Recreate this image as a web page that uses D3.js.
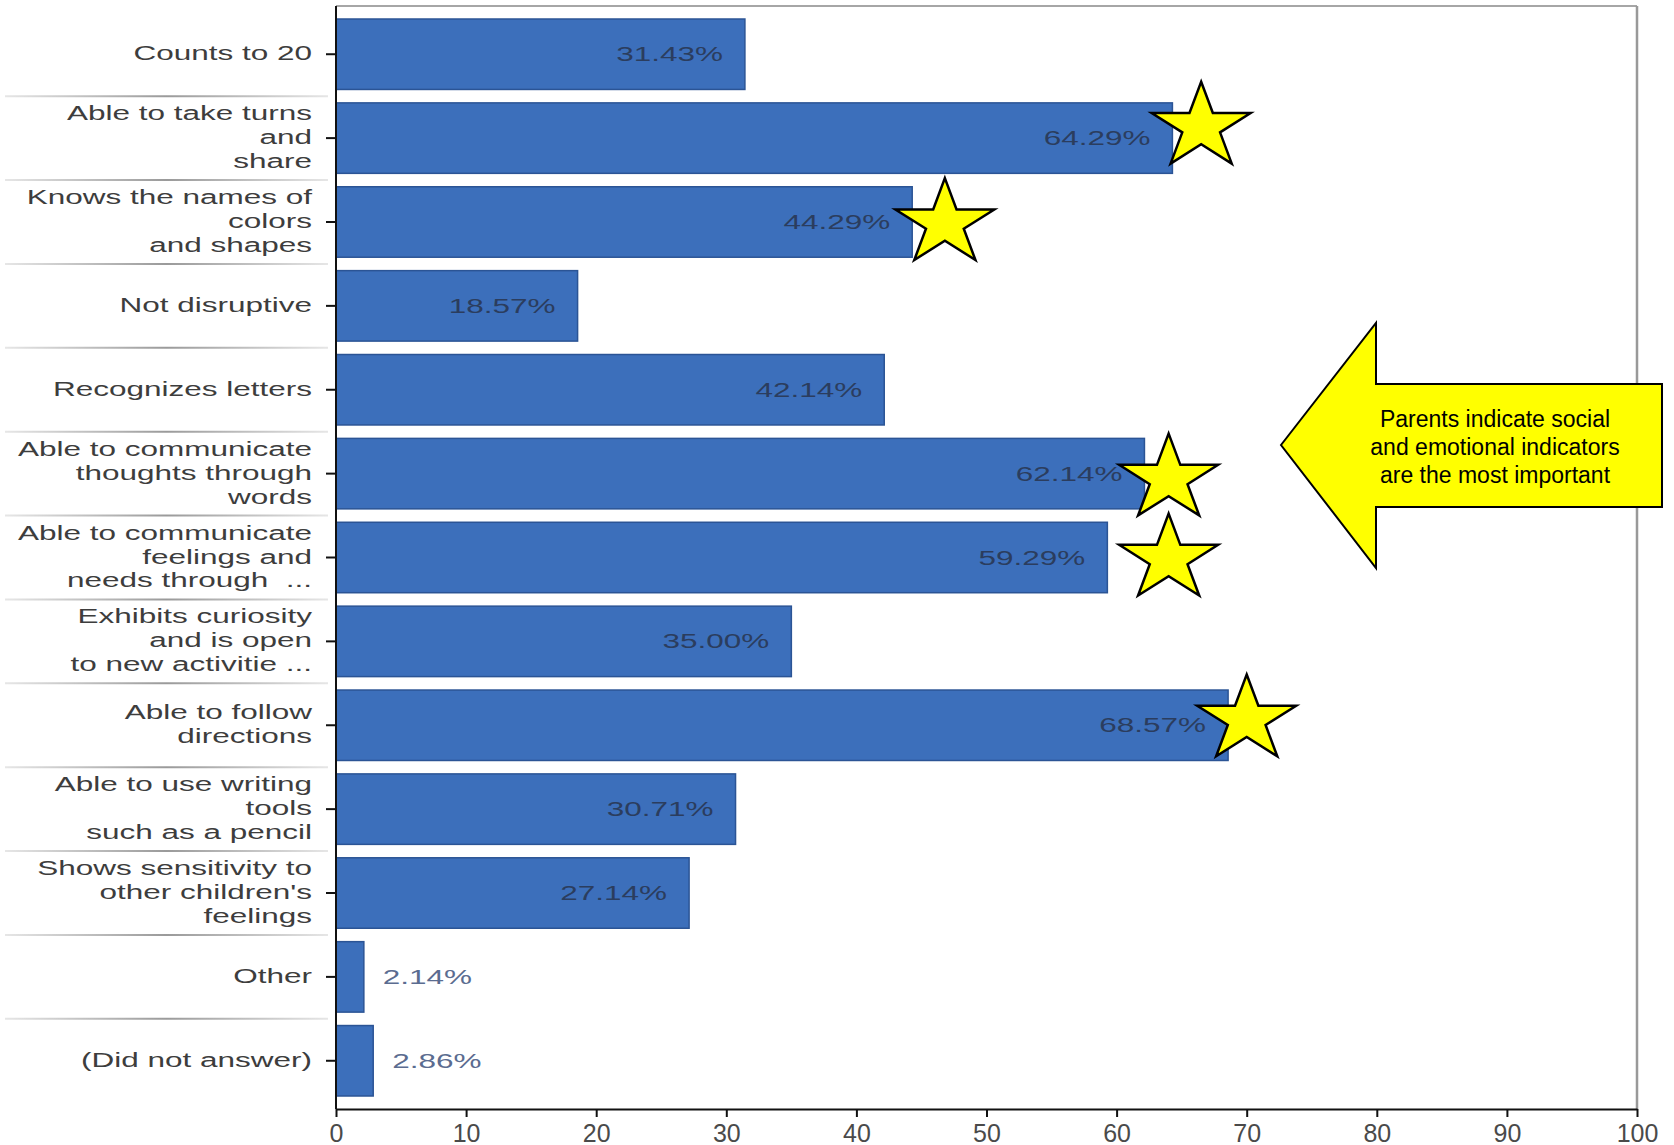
<!DOCTYPE html>
<html><head><meta charset="utf-8">
<script src="https://cdn.jsdelivr.net/npm/d3@7"></script>
<style>body{margin:0;background:#fff}svg{display:block}</style>
</head><body><svg id="c" width="1674" height="1145"></svg>
<script>
const categories = [
  "Counts to 20",
  "Able to take turns\nand\nshare",
  "Knows the names of\ncolors\nand shapes",
  "Not disruptive",
  "Recognizes letters",
  "Able to communicate\nthoughts through\nwords",
  "Able to communicate\nfeelings and\nneeds through  ...",
  "Exhibits curiosity\nand is open\nto new activitie ...",
  "Able to follow\ndirections",
  "Able to use writing\ntools\nsuch as a pencil",
  "Shows sensitivity to\nother children's\nfeelings",
  "Other",
  "(Did not answer)"
];
const values = [31.43, 64.29, 44.29, 18.57, 42.14, 62.14, 59.29, 35.00, 68.57, 30.71, 27.14, 2.14, 2.86];
const valueLabels = ["31.43%", "64.29%", "44.29%", "18.57%", "42.14%", "62.14%", "59.29%", "35.00%", "68.57%", "30.71%", "27.14%", "2.14%", "2.86%"];
const xTicks = [0, 10, 20, 30, 40, 50, 60, 70, 80, 90, 100];
// star annotations: position along category index and along the value axis
const starIndex = [0.868, 2.017, 5.062, 6.016, 7.934];
const starValues = [66.5, 46.8, 64.0, 64.0, 70.0];
const calloutLines = ["Parents indicate social", "and emotional indicators", "are the most important"];

const FONT = "'Liberation Sans', Arial, Helvetica, sans-serif";
const svg = d3.select("#c");
const L = 336, R = 1637, T = 6, B = 1109;

const x = d3.scaleLinear().domain([0, 100]).range([L, R]);
const y = d3.scaleBand().domain(categories).range([T, B]).paddingInner(0.16).paddingOuter(0.155);
const step = y.step(), bw = y.bandwidth();
const yIdx = d3.scaleLinear().domain([0, categories.length - 1])
  .range([y(categories[0]) + bw / 2, y(categories[categories.length - 1]) + bw / 2]);

// gradient for separator lines
const defs = svg.append("defs");
const g = defs.append("linearGradient").attr("id", "sep").attr("gradientUnits", "userSpaceOnUse")
  .attr("x1", 5).attr("x2", 328).attr("y1", 0).attr("y2", 0);
g.append("stop").attr("offset", "0").attr("stop-color", "#e6e6e6");
g.append("stop").attr("offset", "0.5").attr("stop-color", "#9a9a9a");
g.append("stop").attr("offset", "1").attr("stop-color", "#e6e6e6");

// separators between category labels
svg.append("g").selectAll("line").data(categories.slice(0, -1)).join("line")
  .attr("x1", 5).attr("x2", 328)
  .attr("y1", d => y(d) + bw + (step - bw) / 2)
  .attr("y2", d => y(d) + bw + (step - bw) / 2)
  .attr("stroke", "url(#sep)").attr("stroke-width", 2);

// frame (top and right)
svg.append("line").attr("x1", L).attr("x2", R).attr("y1", T).attr("y2", T)
  .attr("stroke", "#a6a6a6").attr("stroke-width", 2);
svg.append("line").attr("x1", R).attr("x2", R).attr("y1", T).attr("y2", B)
  .attr("stroke", "#999").attr("stroke-width", 2.5);

// bars
svg.append("g").selectAll("rect").data(categories).join("rect")
  .attr("x", L)
  .attr("y", d => y(d))
  .attr("width", (d, i) => x(values[i]) - L)
  .attr("height", bw)
  .attr("fill", "#3c6fbb")
  .attr("stroke", "#2b5495").attr("stroke-width", 1.5);

// value labels
svg.append("g").selectAll("text").data(categories).join("text")
  .attr("transform", (d, i) => {
    const cy = y(d) + bw / 2 + 7;
    const inside = values[i] > 10;
    const tx = inside ? x(values[i]) - 22 : x(values[i]) + 19;
    return `translate(${tx},${cy}) scale(1.5,1)`;
  })
  .attr("text-anchor", (d, i) => values[i] > 10 ? "end" : "start")
  .attr("font-family", FONT).attr("font-size", 21)
  .attr("fill", (d, i) => values[i] > 10 ? "#2b3d5e" : "#5b6c90")
  .text((d, i) => valueLabels[i]);

// left axis
const ya = svg.append("g").attr("transform", `translate(${L},0)`)
  .call(d3.axisLeft(y).tickSize(10).tickSizeOuter(0).tickFormat(""));
ya.select(".domain").attr("stroke", "#111").attr("stroke-width", 2)
  .attr("d", `M0,${T}V${B}`);
ya.selectAll(".tick line").attr("stroke", "#111").attr("stroke-width", 2);

// category labels
const lab = svg.append("g").selectAll("g").data(categories).join("g")
  .attr("transform", d => `translate(312,${y(d) + bw / 2}) scale(1.5,1)`);
lab.each(function (d) {
  const lines = d.split("\n");
  const t = d3.select(this).append("text")
    .attr("text-anchor", "end").attr("font-family", FONT).attr("font-size", 21)
    .attr("fill", "#3d3d3d");
  lines.forEach((ln, k) => {
    t.append("tspan").attr("x", 0)
      .attr("y", 6 + (k - (lines.length - 1) / 2) * 24)
      .attr("xml:space", "preserve")
      .text(ln);
  });
});

// bottom axis
const xa = svg.append("g").attr("transform", `translate(0,${B})`)
  .call(d3.axisBottom(x).tickValues(xTicks).tickSize(8).tickSizeOuter(0).tickPadding(8));
xa.select(".domain").attr("stroke", "#111").attr("stroke-width", 2);
xa.selectAll(".tick line").attr("stroke", "#111").attr("stroke-width", 2);
xa.selectAll(".tick text").attr("font-family", FONT).attr("font-size", 25)
  .attr("fill", "#4a4a4a").attr("dy", "0.66em");

// stars
const Rs = 52;
const starPts = d3.range(10).map(k => [k * Math.PI / 5, k % 2 === 0 ? Rs : Rs * 0.382]);
const starPath = d3.lineRadial().curve(d3.curveLinearClosed)(starPts);
svg.append("g").selectAll("path").data(starValues).join("path")
  .attr("d", starPath)
  .attr("transform", (v, i) => `translate(${x(v)},${yIdx(starIndex[i])}) scale(1,0.87)`)
  .attr("fill", "#ffff00").attr("stroke", "#000").attr("stroke-width", 2.5)
  .attr("vector-effect", "non-scaling-stroke").attr("stroke-linejoin", "miter");

// callout arrow
const arrow = [[1281, 445], [1376, 323], [1376, 384], [1662, 384], [1662, 507], [1376, 507], [1376, 568]];
svg.append("path").attr("d", d3.line().curve(d3.curveLinearClosed)(arrow))
  .attr("fill", "#ffff00").attr("stroke", "#000").attr("stroke-width", 2);
svg.append("text").attr("font-family", FONT).attr("font-size", 23).attr("fill", "#000")
  .attr("text-anchor", "middle")
  .selectAll("tspan").data(calloutLines).join("tspan")
  .attr("x", 1495).attr("y", (d, i) => 427 + i * 28).text(d => d);
</script></body></html>
